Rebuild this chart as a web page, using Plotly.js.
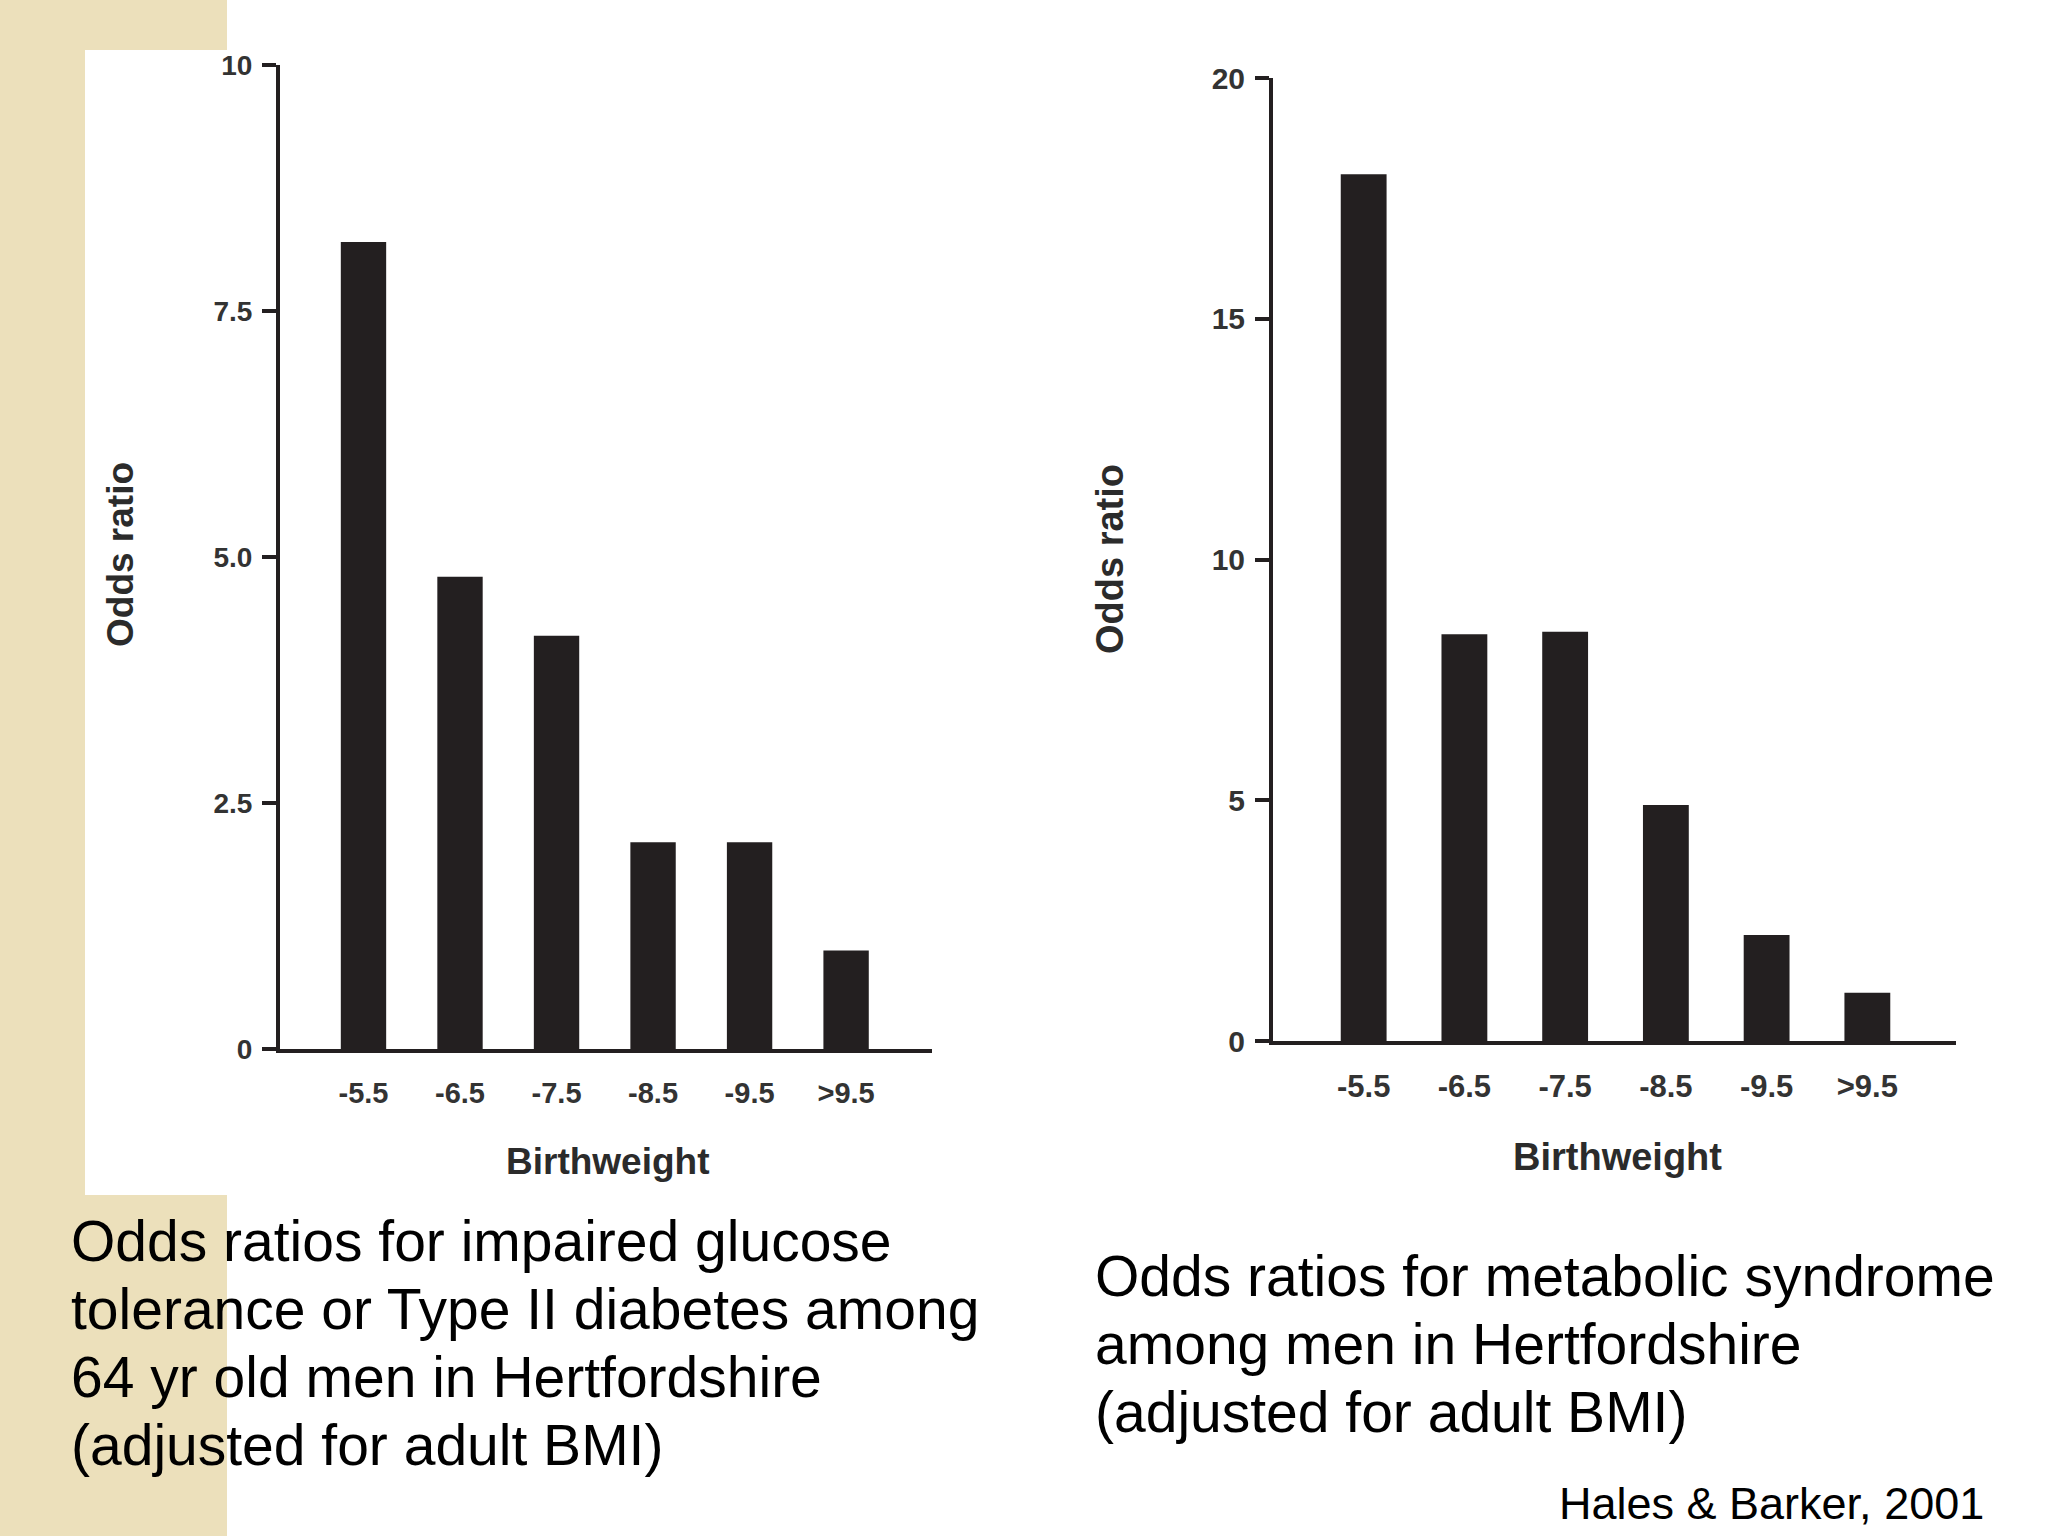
<!DOCTYPE html>
<html>
<head>
<meta charset="utf-8">
<script src="https://cdn.plot.ly/plotly-3.0.1.min.js"></script>
<style>
  html, body { margin: 0; padding: 0; background: #ffffff; }
  #chart { width: 2048px; height: 1536px; }
</style>
</head>
<body>
<div id="chart"></div>
<script>
// birthweight groups (lb) and odds ratios
const birthweightLabels = ['-5.5', '-6.5', '-7.5', '-8.5', '-9.5', '>9.5'];
const glucoseOdds = [8.2, 4.8, 4.2, 2.1, 2.1, 1.0];
const metabolicOdds = [18.0, 8.45, 8.5, 4.9, 2.2, 1.0];

const glucoseTicks = [0, 2.5, 5, 7.5, 10];
const glucoseTickText = ['0', '2.5', '5.0', '7.5', '10'];
const metabolicTicks = [0, 5, 10, 15, 20];

const leftCaption = [
  'Odds ratios for impaired glucose',
  'tolerance or Type II diabetes among',
  '64 yr old men in Hertfordshire',
  '(adjusted for adult BMI)'
];
const rightCaption = [
  'Odds ratios for metabolic syndrome',
  'among men in Hertfordshire',
  '(adjusted for adult BMI)'
];
const sourceNote = 'Hales & Barker, 2001';

const W = 2048, H = 1536;
const ink = '#231f20';
const sans = '"Liberation Sans", Arial, Helvetica, sans-serif';

// pixel -> paper helpers
function px(x) { return x / W; }
function py(y) { return 1 - y / H; }

function new_chart() {
  let data = [
    {
      type: 'bar', x: birthweightLabels, y: glucoseOdds,
      xaxis: 'x', yaxis: 'y', width: 0.47,
      marker: {color: ink, line: {width: 0}},
      hoverinfo: 'x+y'
    },
    {
      type: 'bar', x: birthweightLabels, y: metabolicOdds,
      xaxis: 'x2', yaxis: 'y2', width: 0.455,
      marker: {color: ink, line: {width: 0}},
      hoverinfo: 'x+y'
    }
  ];

  function xAxis(anchor, domain, range, size, standoff) {
    return {
      type: 'category', anchor: anchor, domain: domain, range: range,
      showline: true, linecolor: ink, linewidth: 4,
      ticks: '', showgrid: false, zeroline: false,
      ticklabelstandoff: standoff,
      tickfont: {family: sans, size: size, color: '#333333', weight: 'bold'},
      fixedrange: true
    };
  }

  function yAxis(anchor, domain, range, vals, text, size) {
    return {
      anchor: anchor, domain: domain, range: range,
      showline: true, linecolor: ink, linewidth: 4,
      ticks: 'outside', ticklen: 14, tickwidth: 4, tickcolor: ink,
      tickvals: vals, ticktext: text,
      showgrid: false, zeroline: false,
      ticklabelstandoff: 4,
      tickfont: {family: sans, size: size, color: '#333333', weight: 'bold'},
      fixedrange: true
    };
  }

  let annotations = [];

  function label(text, x, y, size, opts) {
    annotations.push(Object.assign({
      xref: 'paper', yref: 'paper', x: px(x), y: py(y),
      text: text, showarrow: false,
      xanchor: 'center', yanchor: 'middle',
      font: {family: sans, size: size, color: '#2b2b2b', weight: 'bold'}
    }, opts || {}));
  }

  // axis titles
  label('Odds ratio', 120, 555, 37, {textangle: -90});
  label('Odds ratio', 1110, 559, 38, {textangle: -90});
  label('Birthweight', 607, 1161, 37);
  label('Birthweight', 1617, 1157, 38);

  // captions, one annotation per line
  const lineGap = 68;
  leftCaption.forEach(function(t, i) {
    label(t, 69, 1241 + i * lineGap, 57, {
      xanchor: 'left', font: {family: sans, size: 57, color: '#000000'}
    });
  });
  rightCaption.forEach(function(t, i) {
    label(t, 1093, 1276 + i * lineGap, 57, {
      xanchor: 'left', font: {family: sans, size: 57, color: '#000000'}
    });
  });
  label(sourceNote, 1986, 1503, 45, {
    xanchor: 'right', font: {family: sans, size: 45, color: '#000000'}
  });

  let layout = {
    width: W, height: H,
    margin: {l: 0, r: 0, t: 0, b: 0, pad: 0},
    paper_bgcolor: '#ffffff', plot_bgcolor: 'rgba(0,0,0,0)',
    showlegend: false,
    xaxis: xAxis('y', [px(280), px(932)], [-0.865, 5.89], 29, 15),
    yaxis: yAxis('x', [py(1049), py(65)], [0, 10], glucoseTicks, glucoseTickText, 28),
    xaxis2: xAxis('y2', [px(1273), px(1956)], [-0.9, 5.88], 31, 15),
    yaxis2: yAxis('x2', [py(1041), py(78)], [0, 20], metabolicTicks, metabolicTicks.map(String), 30),
    annotations: annotations,
    shapes: [
      // beige slide strip on the left, with the white figure panel over it
      {type: 'rect', xref: 'paper', yref: 'paper', layer: 'below',
       x0: 0, x1: px(227), y0: 0, y1: 1,
       fillcolor: '#ece0bb', line: {width: 0}},
      {type: 'rect', xref: 'paper', yref: 'paper', layer: 'below',
       x0: px(85), x1: px(227), y0: py(1195), y1: py(50),
       fillcolor: '#ffffff', line: {width: 0}}
    ]
  };

  Plotly.newPlot('chart', data, layout, {displayModeBar: false, staticPlot: true});
}

new_chart();
</script>
</body>
</html>
